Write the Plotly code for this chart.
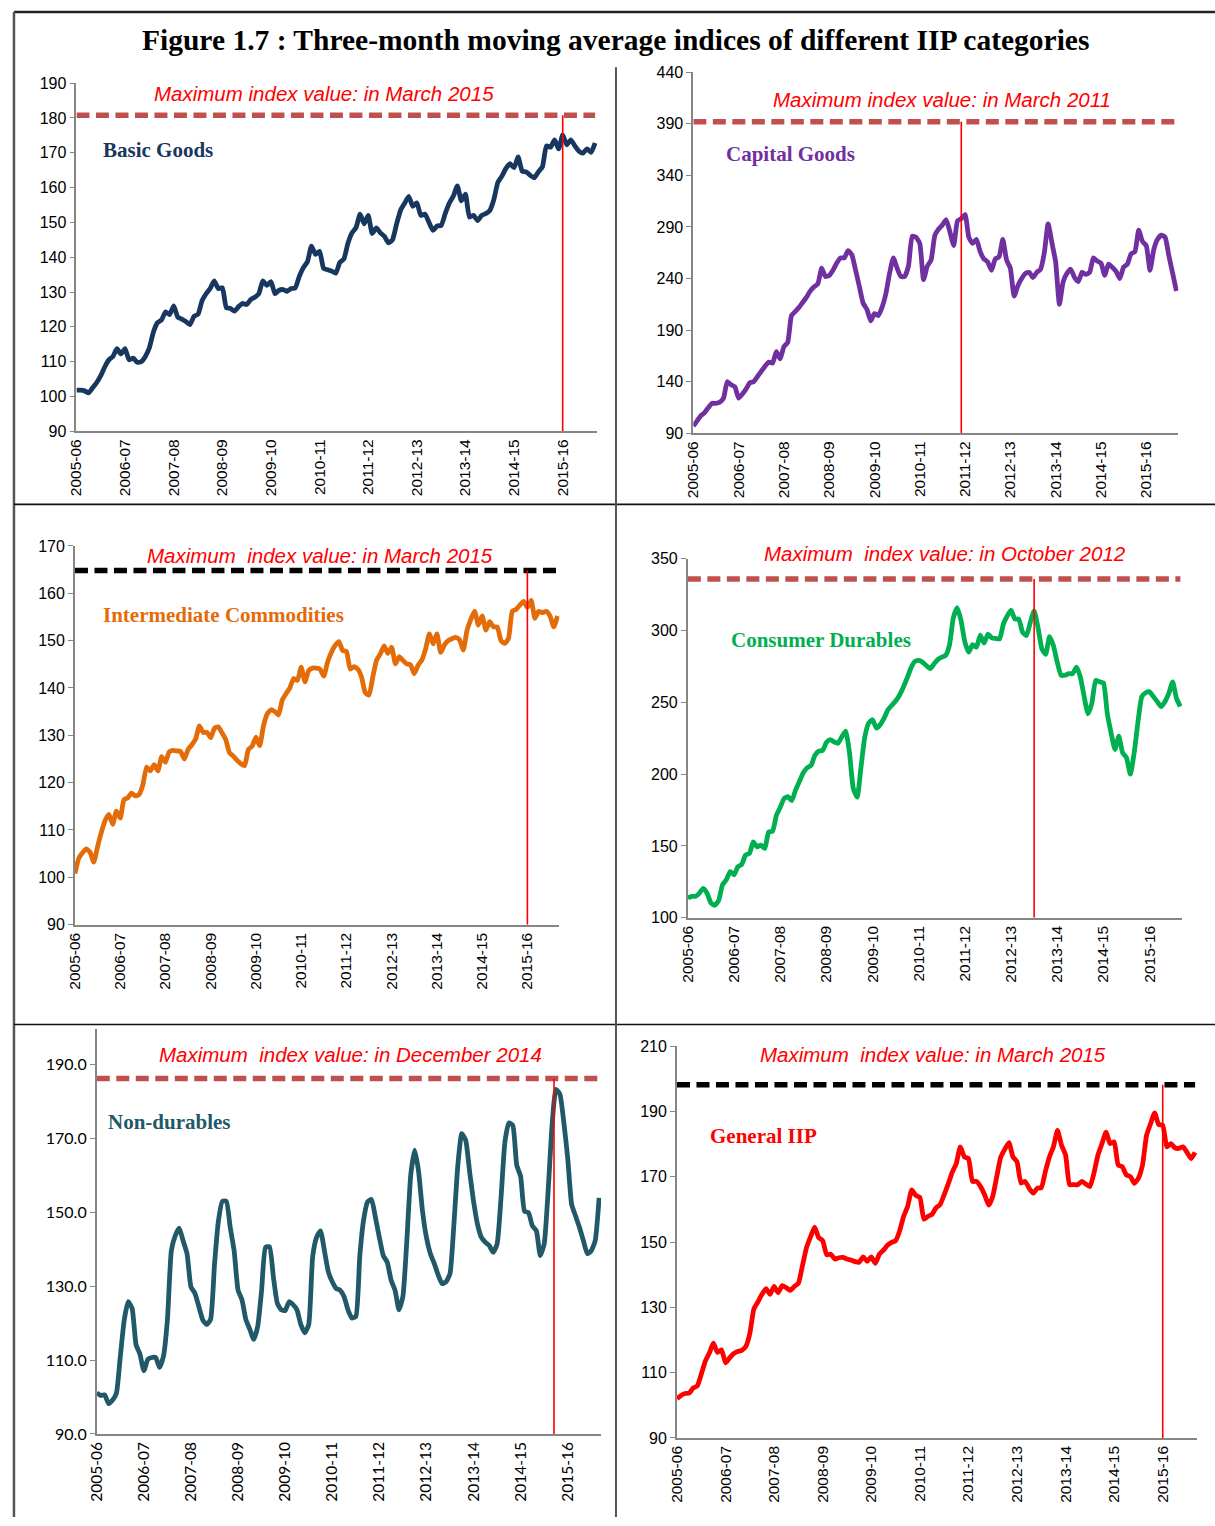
import plotly.graph_objects as go

# months April 2005 .. December 2015 (index 0..128), fiscal-year ticks every 12 months
months = list(range(129))
year_ticks = [0, 12, 24, 36, 48, 60, 72, 84, 96, 108, 120]
year_labels = ['2005-06', '2006-07', '2007-08', '2008-09', '2009-10', '2010-11',
               '2011-12', '2012-13', '2013-14', '2014-15', '2015-16']

basic_goods = [
    101.8, 101.8, 101.6, 101.0, 102.5, 104.0, 106.0, 108.5, 110.5, 111.5,
    113.7, 112.2, 113.7, 110.5, 111.0, 109.8, 110.0, 111.5, 114.0, 118.5,
    121.2, 122.0, 124.3, 123.5, 126.0, 122.8, 122.2, 121.5, 120.6, 123.0,
    123.6, 127.5, 129.5, 131.0, 133.2, 131.0, 131.2, 125.5, 125.3, 124.5,
    125.8, 126.7, 126.4, 127.8, 128.5, 129.5, 133.2, 131.9, 133.0, 129.5,
    130.5, 130.7, 130.2, 131.0, 131.2, 134.5, 137.0, 138.7, 143.2, 140.8,
    141.7, 136.8, 136.4, 136.0, 135.4, 138.5, 139.5, 144.0, 147.0, 148.5,
    152.4, 149.6, 152.0, 146.8, 148.4, 147.0, 146.0, 144.1, 145.0, 149.5,
    153.5, 155.5, 157.5, 154.6, 155.6, 152.0, 152.4, 150.0, 147.7, 149.0,
    149.1, 152.5, 155.5, 157.5, 160.5, 156.2, 158.1, 151.5, 152.0, 150.5,
    152.0, 152.5, 153.4, 156.5, 161.5, 163.3, 165.5, 166.9, 165.7, 168.8,
    164.7, 164.5, 163.5, 162.8, 164.5, 166.0, 172.0, 171.6, 173.7, 171.1,
    175.1, 172.3, 173.7, 172.0, 170.5, 169.9, 171.1, 170.1, 172.8]

capital_goods = [
    97, 102, 107, 110, 115, 119, 119, 120, 124, 140,
    137, 135, 124, 128, 133, 139, 140, 145, 150, 155,
    159, 158, 169, 162, 174, 178, 204, 208, 212, 217,
    222, 228, 232, 235, 250, 242, 243, 248, 255, 260,
    260, 267, 263, 248, 232, 216, 210, 199, 206, 204,
    212, 225, 245, 260, 250, 242, 242, 252, 281, 280,
    274, 239, 252, 258, 282, 288, 292, 297, 285, 272,
    296, 298, 302, 280, 274, 278, 266, 259, 256, 248,
    259, 261, 278, 258, 250, 223, 233, 240, 245, 246,
    241, 246, 249, 265, 293, 275, 256, 215, 237, 245,
    249, 241, 237, 246, 244, 246, 260, 257, 255, 243,
    254, 251, 247, 240, 251, 254, 264, 266, 287, 276,
    272, 248, 268, 278, 282, 280, 262, 245, 228]

intermediate = [
    100.8, 104.0, 105.2, 106.0, 105.3, 103.2, 106.5, 109.5, 112.0, 113.3,
    111.2, 114.0, 112.5, 116.4, 116.8, 117.8, 117.2, 117.5, 119.5, 123.3,
    122.5, 123.8, 122.5, 125.5, 124.3, 126.5, 126.8, 126.7, 126.6, 125.0,
    127.0, 128.0, 129.2, 132.0, 130.6, 130.6, 129.5, 131.5, 131.8, 130.5,
    129.1, 126.3, 125.6, 124.7, 124.0, 123.6, 127.0, 127.7, 129.6, 127.8,
    132.0, 134.5, 135.4, 135.0, 134.3, 137.5, 138.8, 140.0, 142.0, 141.6,
    144.4, 141.3, 143.7, 144.2, 144.2, 144.0, 142.5, 145.5, 147.5, 149.0,
    149.8, 147.9, 147.7, 144.0, 144.5, 144.0, 142.3, 139.0, 138.5, 142.3,
    145.9, 147.2, 148.9, 147.3, 148.6, 145.1, 146.6, 145.8, 145.1, 144.9,
    143.0, 144.8, 145.9, 148.2, 151.4, 149.3, 151.4, 147.5, 149.1, 150.0,
    150.4, 150.7, 150.2, 148.0, 152.2, 154.5, 156.2, 153.3, 155.2, 152.2,
    154.0, 152.9, 152.9, 150.0, 149.4, 150.5, 156.2, 156.6, 157.5, 158.3,
    157.0, 158.5, 154.7, 156.2, 155.9, 156.2, 155.2, 152.9, 155.2]

consumer_durables = [
    113.8, 114.9, 114.9, 117.2, 120.5, 117.0, 110.3, 108.7, 112.0, 123.0,
    126.4, 132.2, 129.9, 135.6, 137.2, 143.7, 144.8, 152.8, 149.4, 150.6,
    148.3, 159.7, 160.2, 171.2, 177.0, 183.0, 184.3, 181.6, 189.0, 195.0,
    201.0, 204.5, 206.0, 213.0, 216.0, 216.5, 222.0, 224.0, 222.5, 221.5,
    226.0, 230.0, 215.0, 190.0, 184.0, 205.0, 226.0, 235.6, 237.9, 232.1,
    234.5, 239.0, 244.8, 248.0, 251.0, 255.0, 260.5, 267.0, 274.0, 278.5,
    279.2, 278.0, 275.5, 273.5, 276.9, 280.0, 281.5, 282.7, 290.0, 309.0,
    316.0, 307.0, 292.0, 285.0, 290.3, 288.4, 296.9, 291.2, 297.6, 294.9,
    294.5, 294.2, 304.5, 310.2, 314.2, 308.0, 308.0, 298.8, 296.5, 305.7,
    313.7, 302.2, 287.3, 283.5, 295.8, 289.6, 278.0, 268.9, 268.9, 270.0,
    270.0, 274.6, 267.7, 254.0, 242.0, 249.4, 265.4, 264.3, 263.6, 242.5,
    228.7, 217.2, 226.4, 214.9, 211.4, 200.0, 214.9, 236.7, 254.0, 256.7,
    257.4, 254.0, 250.5, 247.1, 250.5, 256.2, 264.3, 252.8, 247.1]

non_durables = [
    101.1, 100.4, 100.6, 98.2, 99.1, 101.0, 111.0, 120.9, 125.8, 124.0,
    114.2, 111.6, 107.1, 110.2, 110.7, 110.7, 108.0, 111.1, 120.9, 139.6,
    143.7, 145.7, 142.3, 138.8, 129.8, 128.1, 124.5, 120.9, 119.6, 121.0,
    136.0, 147.7, 153.0, 153.0, 145.9, 139.6, 128.9, 126.3, 120.9, 118.3,
    115.6, 119.1, 128.9, 140.5, 140.7, 132.5, 125.4, 123.6, 123.4, 125.8,
    125.0, 123.6, 119.6, 117.4, 119.6, 137.9, 143.2, 145.0, 139.6, 133.9,
    131.2, 129.4, 128.9, 127.2, 123.6, 121.4, 121.8, 137.9, 148.0, 152.8,
    153.5, 148.6, 143.2, 138.3, 136.5, 131.6, 128.9, 123.6, 127.2, 142.3,
    160.1, 166.8, 161.0, 150.3, 143.2, 138.8, 136.1, 133.0, 130.7, 131.2,
    133.4, 146.8, 162.8, 171.3, 169.5, 161.0, 153.0, 146.8, 143.2, 141.9,
    141.0, 139.2, 141.4, 153.9, 169.1, 174.2, 173.5, 162.8, 159.7, 150.3,
    149.9, 146.3, 145.0, 138.3, 141.4, 155.7, 173.5, 183.3, 182.0, 174.4,
    164.6, 152.1, 149.0, 145.9, 142.3, 138.8, 139.6, 142.3, 153.9]

general_iip = [
    102.0, 103.0, 103.6, 103.7, 105.3, 105.9, 109.5, 113.5, 116.0, 119.0,
    116.2, 117.0, 113.0, 114.5, 115.8, 116.5, 116.8, 118.0, 122.0, 129.5,
    131.7, 134.0, 135.7, 134.0, 136.4, 134.5, 136.7, 136.0, 135.2, 136.4,
    137.4, 142.8, 148.3, 151.6, 154.6, 151.4, 150.4, 146.1, 146.3, 144.8,
    145.2, 145.3, 144.8, 144.5, 144.0, 143.8, 145.5, 144.1, 145.5, 143.5,
    146.3, 147.5, 149.0, 149.9, 150.4, 153.4, 157.9, 161.0, 166.0, 164.3,
    163.7, 157.0, 157.9, 158.5, 160.5, 161.5, 164.5, 167.8, 171.4, 174.1,
    179.2, 176.1, 175.6, 168.6, 168.6, 167.0, 164.5, 161.3, 164.0, 170.1,
    176.1, 178.5, 180.5, 176.1, 174.6, 168.1, 168.6, 166.5, 165.0, 166.5,
    166.7, 171.6, 176.1, 179.2, 184.2, 179.7, 176.7, 167.6, 167.6, 167.6,
    168.6, 167.8, 167.0, 171.1, 176.7, 180.2, 183.7, 180.2, 180.7, 173.6,
    173.1, 170.6, 170.1, 168.0, 169.6, 173.6, 182.7, 186.3, 189.6, 186.0,
    185.8, 179.2, 180.2, 178.9, 178.7, 179.2, 177.5, 175.6, 177.5]

names = ['Basic Goods', 'Capital Goods', 'Intermediate Commodities',
         'Consumer Durables', 'Non-durables', 'General IIP']
series = [basic_goods, capital_goods, intermediate, consumer_durables, non_durables, general_iip]
max_values = [180.8, 392, 164.8, 336, 186.2, 198.2]
peak_months = [120, 71, 120, 90, 116.5, 120]
peak_texts = ['Maximum index value: in March 2015',
              'Maximum index value: in March 2011',
              'Maximum\u00a0 index value: in March 2015',
              'Maximum\u00a0 index value: in October 2012',
              'Maximum\u00a0 index value: in December 2014',
              'Maximum\u00a0 index value: in March 2015']

W, H = 1215, 1526


def fx(px):
    return px / W


def fy(py):
    return 1 - py / H


# page positions (px) and styling of each panel
panels = [
    dict(x0=67, x1=592, top=76, bot=428, yr=[90, 190], dt=10, fmt='', color='#17375E',
         dash='#C0504D', txt=(317, 86), lab=(92, 144), tf='Liberation Sans'),
    dict(x0=689, x1=1178, top=65, bot=430, yr=[90, 440], dt=50, fmt='', color='#7030A0',
         dash='#C0504D', txt=(940, 93), lab=(720, 148), tf='Liberation Sans'),
    dict(x0=65.5, x1=554, top=544, bot=927, yr=[90, 170], dt=10, fmt='', color='#E36C09',
         dash='#000000', txt=(313, 554), lab=(92, 614), tf='Liberation Sans'),
    dict(x0=683.5, x1=1182, top=557, bot=920, yr=[100, 350], dt=50, fmt='', color='#00B050',
         dash='#C0504D', txt=(943, 552), lab=(725, 639), tf='Liberation Sans'),
    dict(x0=87.5, x1=596, top=1033, bot=1442, yr=[90, 199.5], dt=20, fmt='.1f', color='#215968',
         dash='#C0504D', txt=(343, 1058), lab=(97, 1127), tf='Lato'),
    dict(x0=672.5, x1=1197, top=1050, bot=1446, yr=[90, 210], dt=20, fmt='', color='#FF0000',
         dash='#000000', txt=(931, 1058), lab=(704, 1141), tf='Liberation Sans'),
]

fig = go.Figure()
layout = dict(width=W, height=H, margin=dict(l=0, r=0, t=0, b=0),
              paper_bgcolor='white', plot_bgcolor='white', showlegend=False,
              font=dict(family='Liberation Sans', color='#000000'))
annotations = []

for i, p in enumerate(panels):
    s = '' if i == 0 else str(i + 1)
    xa, ya = 'x' + s, 'y' + s

    fig.add_trace(go.Scatter(x=months, y=series[i], mode='lines', xaxis=xa, yaxis=ya,
                             line=dict(color=p['color'], width=4.8, shape='spline', smoothing=0.5),
                             cliponaxis=False))
    fig.add_trace(go.Scatter(x=[months[0], months[-1]], y=[max_values[i], max_values[i]],
                             mode='lines', xaxis=xa, yaxis=ya,
                             line=dict(color=p['dash'], width=5.5, dash='13px,6.5px'),
                             cliponaxis=False))
    fig.add_trace(go.Scatter(x=[peak_months[i], peak_months[i]], y=[p['yr'][0], max_values[i]],
                             mode='lines', xaxis=xa, yaxis=ya,
                             line=dict(color='#FF0000', width=1.6)))

    layout['xaxis' + s] = dict(domain=[fx(p['x0']), fx(p['x1'])], range=[0, 128.5], anchor=ya,
                               tickmode='array', tickvals=year_ticks, ticktext=year_labels,
                               tickangle=-90, ticks='', showgrid=False, zeroline=False,
                               showline=True, linecolor='#868686', linewidth=1.8,
                               tickfont=dict(family=p['tf'], size=15.5, color='#000000'))
    layout['yaxis' + s] = dict(domain=[fy(p['bot']), fy(p['top'])], range=p['yr'], anchor=xa,
                               tick0=p['yr'][0], dtick=p['dt'], tickformat=p['fmt'],
                               ticks='outside', ticklen=5, tickcolor='#868686', tickwidth=1.4,
                               showgrid=False, zeroline=False,
                               showline=True, linecolor='#868686', linewidth=1.8,
                               tickfont=dict(family=p['tf'], size=16, color='#000000'))

    annotations.append(dict(x=fx(p['txt'][0]), y=fy(p['txt'][1]), xref='paper', yref='paper',
                            text='<i>' + peak_texts[i] + '</i>', showarrow=False,
                            xanchor='center', yanchor='middle',
                            font=dict(family='Liberation Sans', size=20.5, color='#FF0000')))
    annotations.append(dict(x=fx(p['lab'][0]), y=fy(p['lab'][1]), xref='paper', yref='paper',
                            text='<b>' + names[i] + '</b>', showarrow=False,
                            xanchor='left', yanchor='middle',
                            font=dict(family='Liberation Serif', size=21, color=p['color'])))

annotations.append(dict(x=fx(611), y=fy(32), xref='paper', yref='paper',
                        text='<b>Figure 1.7 : Three-month moving average indices of different IIP categories</b>',
                        showarrow=False, xanchor='center', yanchor='middle',
                        font=dict(family='Liberation Serif', size=29.5, color='#000000')))

# frame and panel separators
shapes = [
    dict(type='line', xref='paper', yref='paper', x0=fx(4), x1=1, y0=fy(4), y1=fy(4),
         line=dict(color='#222222', width=2.5)),
    dict(type='line', xref='paper', yref='paper', x0=fx(4), x1=fx(4), y0=fy(4), y1=0,
         line=dict(color='#555555', width=2.5)),
    dict(type='line', xref='paper', yref='paper', x0=fx(4), x1=1, y0=fy(502), y1=fy(502),
         line=dict(color='#111111', width=1.6)),
    dict(type='line', xref='paper', yref='paper', x0=fx(4), x1=1, y0=fy(1028), y1=fy(1028),
         line=dict(color='#111111', width=1.6)),
    dict(type='line', xref='paper', yref='paper', x0=fx(611), x1=fx(611), y0=fy(60), y1=0,
         line=dict(color='#555555', width=2)),
]

layout['annotations'] = annotations
layout['shapes'] = shapes
fig.update_layout(**layout)

fig.write_html("out.html", config={'displayModeBar': False},
               post_script="document.documentElement.style.margin='0';"
                           "document.body.style.margin='0';"
                           "document.body.style.padding='0';"
                           "document.documentElement.style.overflow='hidden';")
